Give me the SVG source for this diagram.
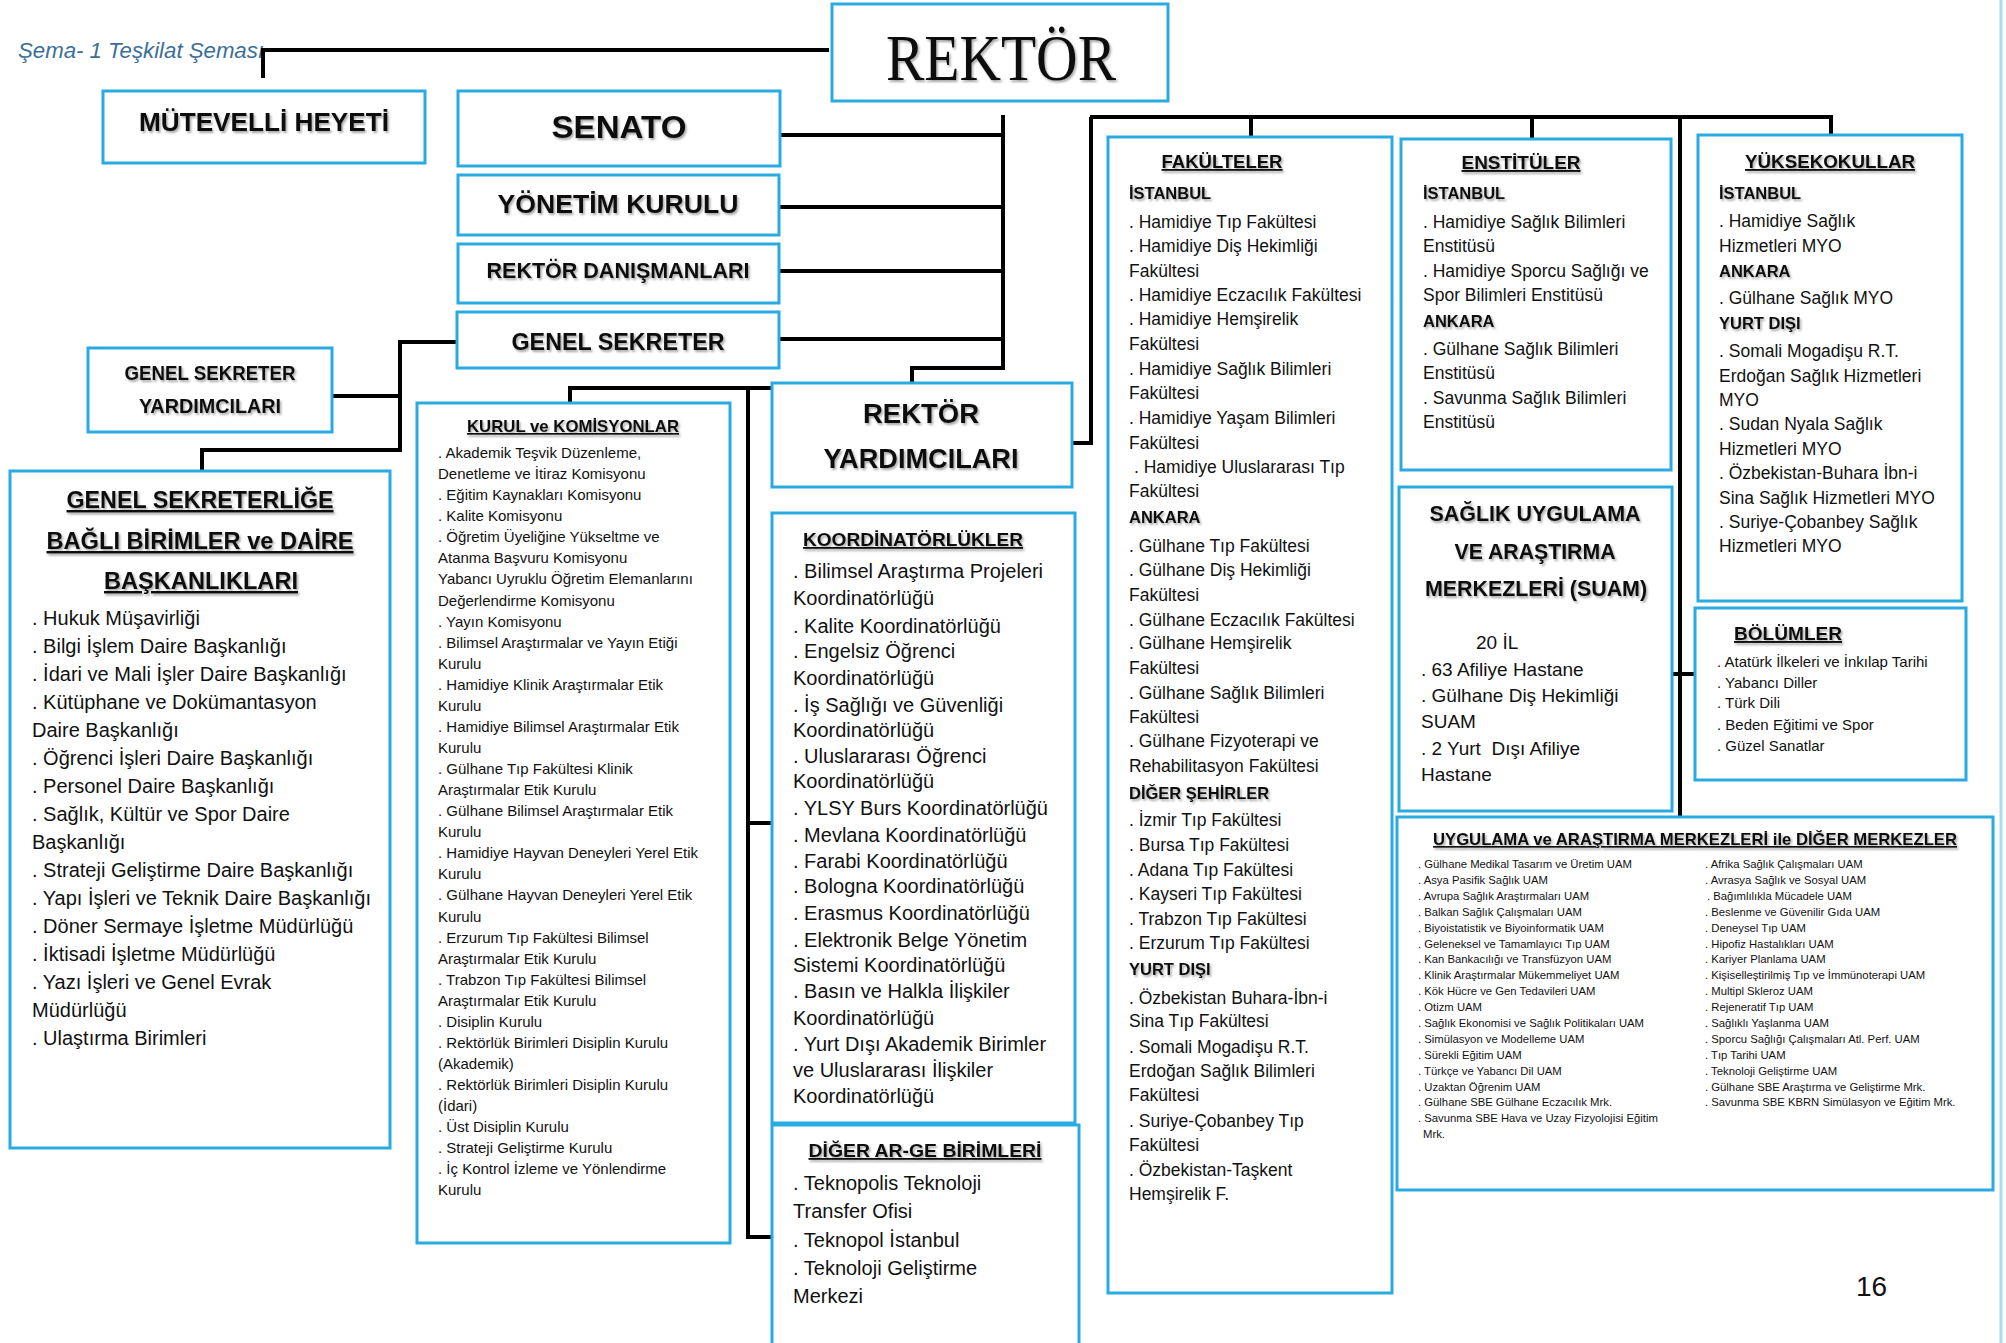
<svg xmlns="http://www.w3.org/2000/svg" width="2006" height="1343" viewBox="0 0 2006 1343">
<defs>
<filter id="sh" x="-5%" y="-30%" width="115%" height="170%"><feDropShadow dx="1.5" dy="2" stdDeviation="1.2" flood-color="#000" flood-opacity="0.35"/></filter>
<style>
.bx{fill:#fff;stroke:#29abe2;stroke-width:3}
.cn path{stroke:#000;stroke-width:4;fill:none}
text{font-family:"Liberation Sans",Arial,sans-serif;fill:#111}
.hd{font-weight:bold;filter:url(#sh)}
.ul{text-decoration:underline}
.m{text-anchor:middle}
.s20{font-size:20px}.s15{font-size:15px}.s175{font-size:17.5px}.s19{font-size:19px}.s11{font-size:11.3px}
.h16{font-size:16.5px}
</style>
</defs>
<rect width="2006" height="1343" fill="#fff"/>
<line x1="2001" y1="0" x2="2001" y2="1343" stroke="#a9dcf1" stroke-width="3"/>
<text x="18" y="58" style="font-style:italic;font-size:22px;fill:#3b6f99" textLength="246" lengthAdjust="spacingAndGlyphs">Şema- 1 Teşkilat Şeması</text>

<g id="connectors" class="cn">
<path d="M829,50 H263 V78"/>
<path d="M1003,115 V368 H912 V383"/>
<path d="M780,135 H1003 M779,207 H1003 M779,271 H1003 M779,339 H1003"/>
<path d="M1090,117 H1833 M1251,117 V137 M1532,117 V139 M1831,117 V135 M1680,117 V817"/>
<path d="M1091,117 V443 H1072"/>
<path d="M1672,674 H1695"/>
<path d="M457,342 H400 V450 H202 V471 M332,396 H400"/>
<path d="M772,388 H570 V403 M748,388 V1237 H772 M748,823 H772"/>
</g>

<g id="rektor"><rect class="bx" x="832" y="4" width="336" height="97"/>
<text x="1001" y="80" class="m" style="font-family:'Liberation Serif',serif;font-size:66px;filter:url(#sh)" textLength="230" lengthAdjust="spacingAndGlyphs">REKTÖR</text></g>

<g id="mutevelli"><rect class="bx" x="103" y="91" width="322" height="72"/>
<text x="264" y="131" class="m hd" style="font-size:26px" textLength="250" lengthAdjust="spacingAndGlyphs">MÜTEVELLİ HEYETİ</text></g>

<g id="senato"><rect class="bx" x="458" y="91" width="322" height="75"/>
<text x="619" y="138" class="m hd" style="font-size:32px" textLength="135" lengthAdjust="spacingAndGlyphs">SENATO</text></g>

<g id="yonetim"><rect class="bx" x="458" y="175" width="321" height="60"/>
<text x="618" y="213" class="m hd" style="font-size:26px" textLength="241" lengthAdjust="spacingAndGlyphs">YÖNETİM KURULU</text></g>

<g id="danisman"><rect class="bx" x="458" y="244" width="321" height="59"/>
<text x="618" y="278" class="m hd" style="font-size:22px" textLength="263" lengthAdjust="spacingAndGlyphs">REKTÖR DANIŞMANLARI</text></g>

<g id="gensek"><rect class="bx" x="457" y="312" width="322" height="56"/>
<text x="618" y="350" class="m hd" style="font-size:24px" textLength="213" lengthAdjust="spacingAndGlyphs">GENEL SEKRETER</text></g>

<g id="gsy"><rect class="bx" x="88" y="348" width="244" height="84"/>
<text x="210" y="380" class="m hd" style="font-size:19.5px" textLength="171" lengthAdjust="spacingAndGlyphs">GENEL SEKRETER</text>
<text x="210" y="413" class="m hd" style="font-size:19.5px" textLength="142" lengthAdjust="spacingAndGlyphs">YARDIMCILARI</text></g>

<g id="gsb"><rect class="bx" x="10" y="471" width="380" height="677"/>
<text x="200" y="508" class="m hd ul" style="font-size:24px" textLength="267" lengthAdjust="spacingAndGlyphs">GENEL SEKRETERLİĞE</text>
<text x="200" y="549" class="m hd ul" style="font-size:24px" textLength="307" lengthAdjust="spacingAndGlyphs">BAĞLI BİRİMLER ve DAİRE</text>
<text x="201" y="589" class="m hd ul" style="font-size:24px" textLength="194" lengthAdjust="spacingAndGlyphs">BAŞKANLIKLARI</text>
<text class="s20">
<tspan x="32" y="625">. Hukuk Müşavirliği</tspan>
<tspan x="32" y="653">. Bilgi İşlem Daire Başkanlığı</tspan>
<tspan x="32" y="681">. İdari ve Mali İşler Daire Başkanlığı</tspan>
<tspan x="32" y="709">. Kütüphane ve Dokümantasyon</tspan>
<tspan x="32" y="737">Daire Başkanlığı</tspan>
<tspan x="32" y="765">. Öğrenci İşleri Daire Başkanlığı</tspan>
<tspan x="32" y="793">. Personel Daire Başkanlığı</tspan>
<tspan x="32" y="821">. Sağlık, Kültür ve Spor Daire</tspan>
<tspan x="32" y="849">Başkanlığı</tspan>
<tspan x="32" y="877">. Strateji Geliştirme Daire Başkanlığı</tspan>
<tspan x="32" y="905">. Yapı İşleri ve Teknik Daire Başkanlığı</tspan>
<tspan x="32" y="933">. Döner Sermaye İşletme Müdürlüğü</tspan>
<tspan x="32" y="961">. İktisadi İşletme Müdürlüğü</tspan>
<tspan x="32" y="989">. Yazı İşleri ve Genel Evrak</tspan>
<tspan x="32" y="1017">Müdürlüğü</tspan>
<tspan x="32" y="1045">. Ulaştırma Birimleri</tspan>
</text></g>

<g id="kurul"><rect class="bx" x="417" y="403" width="313" height="840"/>
<text x="573" y="432" class="m hd ul" style="font-size:16.7px" textLength="212" lengthAdjust="spacingAndGlyphs">KURUL ve KOMİSYONLAR</text>
<text class="s15">
<tspan x="438" y="458">. Akademik Teşvik Düzenleme,</tspan>
<tspan x="438" y="479">Denetleme ve İtiraz Komisyonu</tspan>
<tspan x="438" y="500">. Eğitim Kaynakları Komisyonu</tspan>
<tspan x="438" y="521">. Kalite Komisyonu</tspan>
<tspan x="438" y="542">. Öğretim Üyeliğine Yükseltme ve</tspan>
<tspan x="438" y="563">Atanma Başvuru Komisyonu</tspan>
<tspan x="438" y="584">Yabancı Uyruklu Öğretim Elemanlarını</tspan>
<tspan x="438" y="606">Değerlendirme Komisyonu</tspan>
<tspan x="438" y="627">. Yayın Komisyonu</tspan>
<tspan x="438" y="648">. Bilimsel Araştırmalar ve Yayın Etiği</tspan>
<tspan x="438" y="669">Kurulu</tspan>
<tspan x="438" y="690">. Hamidiye Klinik Araştırmalar Etik</tspan>
<tspan x="438" y="711">Kurulu</tspan>
<tspan x="438" y="732">. Hamidiye Bilimsel Araştırmalar Etik</tspan>
<tspan x="438" y="753">Kurulu</tspan>
<tspan x="438" y="774">. Gülhane Tıp Fakültesi Klinik</tspan>
<tspan x="438" y="795">Araştırmalar Etik Kurulu</tspan>
<tspan x="438" y="816">. Gülhane Bilimsel Araştırmalar Etik</tspan>
<tspan x="438" y="837">Kurulu</tspan>
<tspan x="438" y="858">. Hamidiye Hayvan Deneyleri Yerel Etik</tspan>
<tspan x="438" y="879">Kurulu</tspan>
<tspan x="438" y="900">. Gülhane Hayvan Deneyleri Yerel Etik</tspan>
<tspan x="438" y="922">Kurulu</tspan>
<tspan x="438" y="943">. Erzurum Tıp Fakültesi Bilimsel</tspan>
<tspan x="438" y="964">Araştırmalar Etik Kurulu</tspan>
<tspan x="438" y="985">. Trabzon Tıp Fakültesi Bilimsel</tspan>
<tspan x="438" y="1006">Araştırmalar Etik Kurulu</tspan>
<tspan x="438" y="1027">. Disiplin Kurulu</tspan>
<tspan x="438" y="1048">. Rektörlük Birimleri Disiplin Kurulu</tspan>
<tspan x="438" y="1069">(Akademik)</tspan>
<tspan x="438" y="1090">. Rektörlük Birimleri Disiplin Kurulu</tspan>
<tspan x="438" y="1111">(İdari)</tspan>
<tspan x="438" y="1132">. Üst Disiplin Kurulu</tspan>
<tspan x="438" y="1153">. Strateji Geliştirme Kurulu</tspan>
<tspan x="438" y="1174">. İç Kontrol İzleme ve Yönlendirme</tspan>
<tspan x="438" y="1195">Kurulu</tspan>
</text></g>

<g id="rektor-yardimcilari"><rect class="bx" x="772" y="383" width="300" height="104"/>
<text x="921" y="423" class="m hd" style="font-size:27.5px">REKTÖR</text>
<text x="921" y="468" class="m hd" style="font-size:27.5px" textLength="195" lengthAdjust="spacingAndGlyphs">YARDIMCILARI</text></g>

<g id="koordinatorlukler"><rect class="bx" x="772" y="513" width="303" height="610"/>
<text x="913" y="546" class="m hd ul" style="font-size:18px" textLength="220" lengthAdjust="spacingAndGlyphs">KOORDİNATÖRLÜKLER</text>
<text class="s20">
<tspan x="793" y="578">. Bilimsel Araştırma Projeleri</tspan>
<tspan x="793" y="605">Koordinatörlüğü</tspan>
<tspan x="793" y="633">. Kalite Koordinatörlüğü</tspan>
<tspan x="793" y="658">. Engelsiz Öğrenci</tspan>
<tspan x="793" y="685">Koordinatörlüğü</tspan>
<tspan x="793" y="712">. İş Sağlığı ve Güvenliği</tspan>
<tspan x="793" y="737">Koordinatörlüğü</tspan>
<tspan x="793" y="763">. Uluslararası Öğrenci</tspan>
<tspan x="793" y="788">Koordinatörlüğü</tspan>
<tspan x="793" y="815">. YLSY Burs Koordinatörlüğü</tspan>
<tspan x="793" y="842">. Mevlana Koordinatörlüğü</tspan>
<tspan x="793" y="868">. Farabi Koordinatörlüğü</tspan>
<tspan x="793" y="893">. Bologna Koordinatörlüğü</tspan>
<tspan x="793" y="920">. Erasmus Koordinatörlüğü</tspan>
<tspan x="793" y="947">. Elektronik Belge Yönetim</tspan>
<tspan x="793" y="972">Sistemi Koordinatörlüğü</tspan>
<tspan x="793" y="998">. Basın ve Halkla İlişkiler</tspan>
<tspan x="793" y="1025">Koordinatörlüğü</tspan>
<tspan x="793" y="1051">. Yurt Dışı Akademik Birimler</tspan>
<tspan x="793" y="1077">ve Uluslararası İlişkiler</tspan>
<tspan x="793" y="1103">Koordinatörlüğü</tspan>
</text></g>

<g id="diger-arge"><rect class="bx" x="772" y="1125" width="307" height="240"/>
<text x="925" y="1157" class="m hd ul" style="font-size:18px" textLength="233" lengthAdjust="spacingAndGlyphs">DİĞER AR-GE BİRİMLERİ</text>
<text class="s20">
<tspan x="793" y="1190">. Teknopolis Teknoloji</tspan>
<tspan x="793" y="1218">Transfer Ofisi</tspan>
<tspan x="793" y="1247">. Teknopol İstanbul</tspan>
<tspan x="793" y="1275">. Teknoloji Geliştirme</tspan>
<tspan x="793" y="1303">Merkezi</tspan>
</text></g>

<g id="fakulteler"><rect class="bx" x="1108" y="137" width="284" height="1156"/>
<text x="1222" y="168" class="m hd ul" style="font-size:18px" textLength="121" lengthAdjust="spacingAndGlyphs">FAKÜLTELER</text>
<text x="1129" y="199" class="hd h16">İSTANBUL</text>
<text x="1129" y="523" class="hd h16">ANKARA</text>
<text x="1129" y="799" class="hd h16">DİĞER ŞEHİRLER</text>
<text x="1129" y="975" class="hd h16">YURT DIŞI</text>
<text class="s175">
<tspan x="1129" y="228">. Hamidiye Tıp Fakültesi</tspan>
<tspan x="1129" y="252">. Hamidiye Diş Hekimliği</tspan>
<tspan x="1129" y="277">Fakültesi</tspan>
<tspan x="1129" y="301">. Hamidiye Eczacılık Fakültesi</tspan>
<tspan x="1129" y="325">. Hamidiye Hemşirelik</tspan>
<tspan x="1129" y="350">Fakültesi</tspan>
<tspan x="1129" y="375">. Hamidiye Sağlık Bilimleri</tspan>
<tspan x="1129" y="399">Fakültesi</tspan>
<tspan x="1129" y="424">. Hamidiye Yaşam Bilimleri</tspan>
<tspan x="1129" y="449">Fakültesi</tspan>
<tspan x="1134" y="473">. Hamidiye Uluslararası Tıp</tspan>
<tspan x="1129" y="497">Fakültesi</tspan>
<tspan x="1129" y="552">. Gülhane Tıp Fakültesi</tspan>
<tspan x="1129" y="576">. Gülhane Diş Hekimliği</tspan>
<tspan x="1129" y="601">Fakültesi</tspan>
<tspan x="1129" y="626">. Gülhane Eczacılık Fakültesi</tspan>
<tspan x="1129" y="649">. Gülhane Hemşirelik</tspan>
<tspan x="1129" y="674">Fakültesi</tspan>
<tspan x="1129" y="699">. Gülhane Sağlık Bilimleri</tspan>
<tspan x="1129" y="723">Fakültesi</tspan>
<tspan x="1129" y="747">. Gülhane Fizyoterapi ve</tspan>
<tspan x="1129" y="772">Rehabilitasyon Fakültesi</tspan>
<tspan x="1129" y="826">. İzmir Tıp Fakültesi</tspan>
<tspan x="1129" y="851">. Bursa Tıp Fakültesi</tspan>
<tspan x="1129" y="876">. Adana Tıp Fakültesi</tspan>
<tspan x="1129" y="900">. Kayseri Tıp Fakültesi</tspan>
<tspan x="1129" y="925">. Trabzon Tıp Fakültesi</tspan>
<tspan x="1129" y="949">. Erzurum Tıp Fakültesi</tspan>
<tspan x="1129" y="1004">. Özbekistan Buhara-İbn-i</tspan>
<tspan x="1129" y="1027">Sina Tıp Fakültesi</tspan>
<tspan x="1129" y="1053">. Somali Mogadişu R.T.</tspan>
<tspan x="1129" y="1077">Erdoğan Sağlık Bilimleri</tspan>
<tspan x="1129" y="1101">Fakültesi</tspan>
<tspan x="1129" y="1127">. Suriye-Çobanbey Tıp</tspan>
<tspan x="1129" y="1151">Fakültesi</tspan>
<tspan x="1129" y="1176">. Özbekistan-Taşkent</tspan>
<tspan x="1129" y="1200">Hemşirelik F.</tspan>
</text></g>

<g id="enstituler"><rect class="bx" x="1401" y="139" width="270" height="331"/>
<text x="1521" y="169" class="m hd ul" style="font-size:19px" textLength="119" lengthAdjust="spacingAndGlyphs">ENSTİTÜLER</text>
<text x="1423" y="199" class="hd h16">İSTANBUL</text>
<text x="1423" y="327" class="hd h16">ANKARA</text>
<text class="s175">
<tspan x="1423" y="228">. Hamidiye Sağlık Bilimleri</tspan>
<tspan x="1423" y="252">Enstitüsü</tspan>
<tspan x="1423" y="277">. Hamidiye Sporcu Sağlığı ve</tspan>
<tspan x="1423" y="301">Spor Bilimleri Enstitüsü</tspan>
<tspan x="1423" y="355">. Gülhane Sağlık Bilimleri</tspan>
<tspan x="1423" y="379">Enstitüsü</tspan>
<tspan x="1423" y="404">. Savunma Sağlık Bilimleri</tspan>
<tspan x="1423" y="428">Enstitüsü</tspan>
</text></g>

<g id="suam"><rect class="bx" x="1399" y="487" width="273" height="324"/>
<text x="1535" y="521" class="m hd" style="font-size:22px" textLength="211" lengthAdjust="spacingAndGlyphs">SAĞLIK UYGULAMA</text>
<text x="1535" y="559" class="m hd" style="font-size:22px" textLength="161" lengthAdjust="spacingAndGlyphs">VE ARAŞTIRMA</text>
<text x="1536" y="596" class="m hd" style="font-size:22px" textLength="222" lengthAdjust="spacingAndGlyphs">MERKEZLERİ (SUAM)</text>
<text class="s19">
<tspan x="1476" y="649">20 İL</tspan>
<tspan x="1421" y="676">. 63 Afiliye Hastane</tspan>
<tspan x="1421" y="702">. Gülhane Diş Hekimliği</tspan>
<tspan x="1421" y="728">SUAM</tspan>
<tspan x="1421" y="755" xml:space="preserve">. 2 Yurt  Dışı Afiliye</tspan>
<tspan x="1421" y="781">Hastane</tspan>
</text></g>

<g id="yuksekokullar"><rect class="bx" x="1698" y="135" width="264" height="466"/>
<text x="1830" y="168" class="m hd ul" style="font-size:18.4px" textLength="170" lengthAdjust="spacingAndGlyphs">YÜKSEKOKULLAR</text>
<text x="1719" y="199" class="hd h16">İSTANBUL</text>
<text x="1719" y="277" class="hd h16">ANKARA</text>
<text x="1719" y="329" class="hd h16">YURT DIŞI</text>
<text class="s175">
<tspan x="1719" y="227">. Hamidiye Sağlık</tspan>
<tspan x="1719" y="252">Hizmetleri MYO</tspan>
<tspan x="1719" y="304">. Gülhane Sağlık MYO</tspan>
<tspan x="1719" y="357">. Somali Mogadişu R.T.</tspan>
<tspan x="1719" y="382">Erdoğan Sağlık Hizmetleri</tspan>
<tspan x="1719" y="406">MYO</tspan>
<tspan x="1719" y="430">. Sudan Nyala Sağlık</tspan>
<tspan x="1719" y="455">Hizmetleri MYO</tspan>
<tspan x="1719" y="479">. Özbekistan-Buhara İbn-i</tspan>
<tspan x="1719" y="504">Sina Sağlık Hizmetleri MYO</tspan>
<tspan x="1719" y="528">. Suriye-Çobanbey Sağlık</tspan>
<tspan x="1719" y="552">Hizmetleri MYO</tspan>
</text></g>

<g id="bolumler"><rect class="bx" x="1695" y="608" width="271" height="172"/>
<text x="1788" y="640" class="m hd ul" style="font-size:19px" textLength="108" lengthAdjust="spacingAndGlyphs">BÖLÜMLER</text>
<text class="s15">
<tspan x="1717" y="667">. Atatürk İlkeleri ve İnkılap Tarihi</tspan>
<tspan x="1717" y="688">. Yabancı Diller</tspan>
<tspan x="1717" y="708">. Türk Dili</tspan>
<tspan x="1717" y="730">. Beden Eğitimi ve Spor</tspan>
<tspan x="1717" y="751">. Güzel Sanatlar</tspan>
</text></g>

<g id="uam"><rect class="bx" x="1397" y="817" width="596" height="373"/>
<text x="1695" y="845" class="m hd ul" style="font-size:16.6px" textLength="524" lengthAdjust="spacingAndGlyphs">UYGULAMA ve ARAŞTIRMA MERKEZLERİ ile DİĞER MERKEZLER</text>
<text class="s11">
<tspan x="1418" y="868">. Gülhane Medikal Tasarım ve Üretim UAM</tspan>
<tspan x="1418" y="884">. Asya Pasifik Sağlık UAM</tspan>
<tspan x="1418" y="900">. Avrupa Sağlık Araştırmaları UAM</tspan>
<tspan x="1418" y="916">. Balkan Sağlık Çalışmaları UAM</tspan>
<tspan x="1418" y="932">. Biyoistatistik ve Biyoinformatik UAM</tspan>
<tspan x="1418" y="948">. Geleneksel ve Tamamlayıcı Tıp UAM</tspan>
<tspan x="1418" y="963">. Kan Bankacılığı ve Transfüzyon UAM</tspan>
<tspan x="1418" y="979">. Klinik Araştırmalar Mükemmeliyet UAM</tspan>
<tspan x="1418" y="995">. Kök Hücre ve Gen Tedavileri UAM</tspan>
<tspan x="1418" y="1011">. Otizm UAM</tspan>
<tspan x="1418" y="1027">. Sağlık Ekonomisi ve Sağlık Politikaları UAM</tspan>
<tspan x="1418" y="1043">. Simülasyon ve Modelleme UAM</tspan>
<tspan x="1418" y="1059">. Sürekli Eğitim UAM</tspan>
<tspan x="1418" y="1075">. Türkçe ve Yabancı Dil UAM</tspan>
<tspan x="1418" y="1091">. Uzaktan Öğrenim UAM</tspan>
<tspan x="1418" y="1106">. Gülhane SBE Gülhane Eczacılık Mrk.</tspan>
<tspan x="1418" y="1122">. Savunma SBE Hava ve Uzay Fizyolojisi Eğitim</tspan>
<tspan x="1423" y="1138">Mrk.</tspan>
<tspan x="1705" y="868">. Afrika Sağlık Çalışmaları UAM</tspan>
<tspan x="1705" y="884">. Avrasya Sağlık ve Sosyal UAM</tspan>
<tspan x="1707" y="900">. Bağımlılıkla Mücadele UAM</tspan>
<tspan x="1705" y="916">. Beslenme ve Güvenilir Gıda UAM</tspan>
<tspan x="1705" y="932">. Deneysel Tıp UAM</tspan>
<tspan x="1705" y="948">. Hipofiz Hastalıkları UAM</tspan>
<tspan x="1705" y="963">. Kariyer Planlama UAM</tspan>
<tspan x="1705" y="979">. Kişiselleştirilmiş Tıp ve İmmünoterapi UAM</tspan>
<tspan x="1705" y="995">. Multipl Skleroz UAM</tspan>
<tspan x="1705" y="1011">. Rejeneratif Tıp UAM</tspan>
<tspan x="1705" y="1027">. Sağlıklı Yaşlanma UAM</tspan>
<tspan x="1705" y="1043">. Sporcu Sağlığı Çalışmaları Atl. Perf. UAM</tspan>
<tspan x="1705" y="1059">. Tıp Tarihi UAM</tspan>
<tspan x="1705" y="1075">. Teknoloji Geliştirme UAM</tspan>
<tspan x="1705" y="1091">. Gülhane SBE Araştırma ve Geliştirme Mrk.</tspan>
<tspan x="1705" y="1106">. Savunma SBE KBRN Simülasyon ve Eğitim Mrk.</tspan>
</text></g>

<text x="1856" y="1296" style="font-size:28px">16</text>
</svg>
